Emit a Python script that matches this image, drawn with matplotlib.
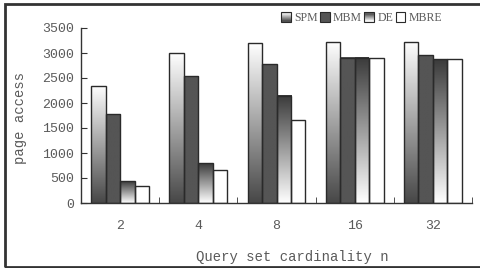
import numpy as np
import matplotlib
matplotlib.use("Agg")
import matplotlib.pyplot as plt
from matplotlib.patches import Rectangle
from matplotlib.legend_handler import HandlerBase
from matplotlib.colors import LinearSegmentedColormap

categories = ["2", "4", "8", "16", "32"]
series_names = ["SPM", "MBM", "DE", "MBRE"]
spm = [2350, 3000, 3200, 3230, 3230]
mbm = [1780, 2540, 2780, 2910, 2960]
de = [440, 800, 2150, 2910, 2880]
mbre = [340, 660, 1660, 2910, 2880]
yticks = [0, 500, 1000, 1500, 2000, 2500, 3000, 3500]

series = [spm, mbm, de, mbre]
# style: (top color, bottom color)
styles = [("#ffffff", "#474747"), ("#555555", "#555555"), ("#3a3a3a", "#ffffff"), ("#ffffff", "#ffffff")]

fig = plt.figure(figsize=(4.8, 2.68), dpi=100)
ax = fig.add_axes([81/480, 1-203/268, (472-81)/480, (203-28)/268])

x = np.arange(len(categories))
w = 0.185
offs = [-1.5, -0.5, 0.5, 1.5]
grad = np.linspace(0, 1, 256).reshape(-1, 1)
for si, (vals, (ctop, cbot)) in enumerate(zip(series, styles)):
    cmap = LinearSegmentedColormap.from_list("g%d" % si, [cbot, ctop])
    bars = ax.bar(x + offs[si]*w, vals, width=w, facecolor="none",
                  edgecolor="#2a2a2a", linewidth=1.0, zorder=3)
    for b in bars:
        x0, y0 = b.get_x(), b.get_y()
        bw, bh = b.get_width(), b.get_height()
        ax.imshow(grad, extent=(x0, x0+bw, 0, bh), origin="lower", cmap=cmap,
                  vmin=0, vmax=1, aspect="auto", zorder=2, interpolation="bilinear")

ax.set_xlim(-0.5, len(categories)-0.5)
ax.set_ylim(0, 3500)
ax.set_aspect("auto")
ax.set_yticks(yticks)
ax.set_yticklabels([str(t) for t in yticks])
ax.set_xticks(x)
ax.set_xticklabels(categories)
ax.set_xticks(np.arange(0.5, len(categories), 1.0), minor=True)
ax.tick_params(axis="x", which="major", length=0, pad=12)
ax.tick_params(axis="x", which="minor", direction="in", length=4, color="#333333")
ax.tick_params(axis="y", direction="in", length=4, color="#333333", pad=5)
for lab in ax.get_xticklabels() + ax.get_yticklabels():
    lab.set_fontfamily("Liberation Mono")
    lab.set_fontsize(9.5)
    lab.set_color("#5a5a5a")
for s in ["top", "right"]:
    ax.spines[s].set_visible(False)
for s in ["left", "bottom"]:
    ax.spines[s].set_color("#333333")
    ax.spines[s].set_linewidth(1.0)

ax.set_xlabel("Query set cardinality n", family="Liberation Mono", fontsize=10,
              color="#5a5a5a", va="center")
ax.set_ylabel("page access", family="Liberation Mono", fontsize=10,
              color="#5a5a5a", va="center")
ax.xaxis.set_label_coords((292-81)/391, (203-257)/175)
ax.yaxis.set_label_coords((20-81)/391, (203-118)/175)


class GradHandler(HandlerBase):
    def __init__(self, ctop, cbot):
        super().__init__()
        self.ctop = ctop
        self.cbot = cbot

    def create_artists(self, legend, orig_handle, xdescent, ydescent, width,
                       height, fontsize, trans):
        cmap = LinearSegmentedColormap.from_list("h", [self.cbot, self.ctop])
        n = 8
        arts = []
        size = height * 1.0
        x0 = -xdescent
        y0 = -ydescent
        for i in range(n):
            r = Rectangle((x0, y0 + size*i/n), size, size/n + 0.05,
                          facecolor=cmap((i + 0.5)/n), edgecolor="none",
                          transform=trans)
            arts.append(r)
        arts.append(Rectangle((x0, y0), size, size, facecolor="none",
                              edgecolor="#2a2a2a", linewidth=0.8, transform=trans))
        return arts


handles = [Rectangle((0, 0), 1, 1) for _ in series_names]
hmap = {h: GradHandler(*st) for h, st in zip(handles, styles)}
leg = fig.legend(handles, series_names, handler_map=hmap, ncol=4,
                 loc="center right", bbox_to_anchor=(447/480, 1-18/268),
                 frameon=False, handlelength=0.85, handleheight=0.85,
                 handletextpad=0.25, columnspacing=0.2, borderaxespad=0,
                 prop={"family": "Liberation Serif", "size": 8.5})
for t in leg.get_texts():
    t.set_color("#5a5a5a")

fig.add_artist(Rectangle((5/480, 1-267/268), 1.2, (267-4)/268, transform=fig.transFigure,
                         facecolor="none", edgecolor="#333333", linewidth=2.0))

fig.savefig("out.png", dpi=100)
